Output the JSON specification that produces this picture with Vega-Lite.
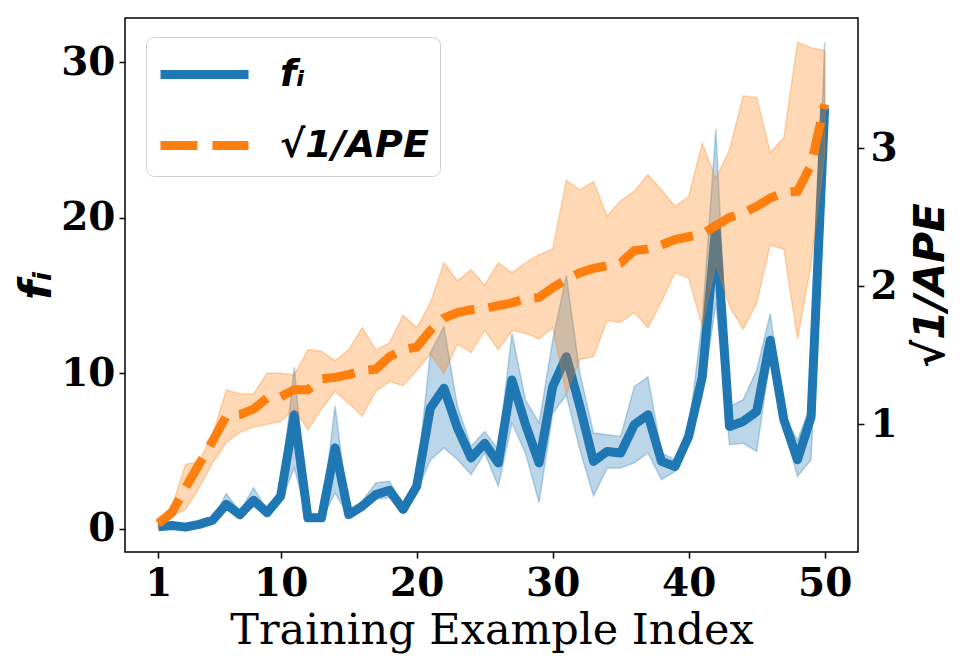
{
  "$schema": "https://vega.github.io/schema/vega-lite/v6.json",
  "width": 733,
  "height": 534,
  "autosize": {"type": "none"},
  "padding": {"left": 125, "top": 18, "right": 111, "bottom": 111},
  "background": "white",
  "data": {
    "values": [
      {"i": 1, "f": 0.13, "flo": 0.06, "fhi": 0.2, "a": 0.28, "alo": 0.25, "ahi": 0.32},
      {"i": 2, "f": 0.2, "flo": 0.12, "fhi": 0.28, "a": 0.36, "alo": 0.34, "ahi": 0.4},
      {"i": 3, "f": 0.1, "flo": 0.04, "fhi": 0.16, "a": 0.54, "alo": 0.38, "ahi": 0.71},
      {"i": 4, "f": 0.28, "flo": 0.2, "fhi": 0.36, "a": 0.71, "alo": 0.54, "ahi": 0.73},
      {"i": 5, "f": 0.55, "flo": 0.45, "fhi": 0.65, "a": 0.88, "alo": 0.72, "ahi": 0.93},
      {"i": 6, "f": 1.56, "flo": 1.24, "fhi": 2.26, "a": 1.06, "alo": 0.87, "ahi": 1.25},
      {"i": 7, "f": 0.9, "flo": 0.75, "fhi": 1.1, "a": 1.07, "alo": 0.94, "ahi": 1.22},
      {"i": 8, "f": 1.83, "flo": 1.4, "fhi": 2.63, "a": 1.11, "alo": 0.98, "ahi": 1.22},
      {"i": 9, "f": 1.03, "flo": 0.9, "fhi": 1.2, "a": 1.19, "alo": 1.0, "ahi": 1.37},
      {"i": 10, "f": 2.1, "flo": 1.7, "fhi": 2.5, "a": 1.2, "alo": 1.02, "ahi": 1.37},
      {"i": 11, "f": 7.33, "flo": 3.9, "fhi": 10.4, "a": 1.25, "alo": 1.11, "ahi": 1.36},
      {"i": 12, "f": 0.7, "flo": 0.6, "fhi": 0.8, "a": 1.25, "alo": 0.96, "ahi": 1.54},
      {"i": 13, "f": 0.7, "flo": 0.6, "fhi": 0.8, "a": 1.33, "alo": 1.11, "ahi": 1.53},
      {"i": 14, "f": 5.2, "flo": 2.3, "fhi": 7.9, "a": 1.34, "alo": 1.24, "ahi": 1.46},
      {"i": 15, "f": 0.9, "flo": 0.8, "fhi": 1.0, "a": 1.36, "alo": 1.15, "ahi": 1.54},
      {"i": 16, "f": 1.45, "flo": 1.2, "fhi": 1.8, "a": 1.39, "alo": 1.06, "ahi": 1.7},
      {"i": 17, "f": 2.2, "flo": 1.9, "fhi": 2.95, "a": 1.4, "alo": 1.24, "ahi": 1.54},
      {"i": 18, "f": 2.47, "flo": 2.0, "fhi": 3.05, "a": 1.49, "alo": 1.31, "ahi": 1.59},
      {"i": 19, "f": 1.24, "flo": 1.1, "fhi": 1.4, "a": 1.54, "alo": 1.28, "ahi": 1.79},
      {"i": 20, "f": 2.73, "flo": 2.4, "fhi": 3.1, "a": 1.56, "alo": 1.39, "ahi": 1.7},
      {"i": 21, "f": 7.75, "flo": 4.4, "fhi": 11.3, "a": 1.68, "alo": 1.51, "ahi": 1.88},
      {"i": 22, "f": 9.04, "flo": 5.2, "fhi": 13.0, "a": 1.77, "alo": 1.37, "ahi": 2.17},
      {"i": 23, "f": 6.47, "flo": 4.44, "fhi": 7.86, "a": 1.81, "alo": 1.58, "ahi": 2.04},
      {"i": 24, "f": 4.55, "flo": 3.48, "fhi": 5.3, "a": 1.83, "alo": 1.52, "ahi": 2.12},
      {"i": 25, "f": 5.5, "flo": 4.87, "fhi": 6.26, "a": 1.84, "alo": 1.68, "ahi": 2.01},
      {"i": 26, "f": 4.23, "flo": 2.73, "fhi": 5.08, "a": 1.86, "alo": 1.54, "ahi": 2.17},
      {"i": 27, "f": 9.57, "flo": 6.8, "fhi": 12.56, "a": 1.88, "alo": 1.68, "ahi": 2.1},
      {"i": 28, "f": 6.7, "flo": 4.87, "fhi": 8.29, "a": 1.91, "alo": 1.66, "ahi": 2.17},
      {"i": 29, "f": 4.23, "flo": 1.67, "fhi": 6.8, "a": 1.92, "alo": 1.62, "ahi": 2.23},
      {"i": 30, "f": 9.14, "flo": 7.43, "fhi": 12.13, "a": 1.99, "alo": 1.7, "ahi": 2.27},
      {"i": 31, "f": 11.07, "flo": 8.6, "fhi": 16.3, "a": 2.05, "alo": 1.22, "ahi": 2.77},
      {"i": 32, "f": 7.86, "flo": 5.08, "fhi": 10.0, "a": 2.1, "alo": 1.47, "ahi": 2.7},
      {"i": 33, "f": 4.33, "flo": 2.1, "fhi": 6.15, "a": 2.13, "alo": 1.49, "ahi": 2.76},
      {"i": 34, "f": 4.97, "flo": 3.9, "fhi": 6.04, "a": 2.15, "alo": 1.75, "ahi": 2.51},
      {"i": 35, "f": 4.87, "flo": 3.9, "fhi": 5.94, "a": 2.17, "alo": 1.74, "ahi": 2.62},
      {"i": 36, "f": 6.69, "flo": 4.23, "fhi": 9.14, "a": 2.26, "alo": 1.81, "ahi": 2.69},
      {"i": 37, "f": 7.33, "flo": 4.87, "fhi": 9.78, "a": 2.27, "alo": 1.7, "ahi": 2.81},
      {"i": 38, "f": 4.33, "flo": 3.16, "fhi": 4.87, "a": 2.3, "alo": 1.89, "ahi": 2.7},
      {"i": 39, "f": 4.0, "flo": 3.7, "fhi": 4.44, "a": 2.34, "alo": 2.1, "ahi": 2.58},
      {"i": 40, "f": 5.94, "flo": 5.7, "fhi": 6.37, "a": 2.36, "alo": 2.06, "ahi": 2.65},
      {"i": 41, "f": 9.78, "flo": 8.5, "fhi": 13.4, "a": 2.38, "alo": 1.71, "ahi": 3.04},
      {"i": 42, "f": 19.5, "flo": 14.5, "fhi": 25.7, "a": 2.44, "alo": 2.16, "ahi": 2.78},
      {"i": 43, "f": 6.58, "flo": 5.4, "fhi": 7.86, "a": 2.5, "alo": 1.86, "ahi": 2.99},
      {"i": 44, "f": 6.9, "flo": 5.5, "fhi": 8.29, "a": 2.53, "alo": 1.69, "ahi": 3.38},
      {"i": 45, "f": 7.54, "flo": 4.97, "fhi": 10.2, "a": 2.58, "alo": 1.88, "ahi": 3.37},
      {"i": 46, "f": 12.13, "flo": 11.07, "fhi": 13.85, "a": 2.64, "alo": 2.3, "ahi": 2.97},
      {"i": 47, "f": 7.0, "flo": 6.6, "fhi": 7.3, "a": 2.68, "alo": 2.27, "ahi": 3.08},
      {"i": 48, "f": 4.44, "flo": 3.37, "fhi": 5.7, "a": 2.69, "alo": 1.62, "ahi": 3.77},
      {"i": 49, "f": 7.2, "flo": 4.44, "fhi": 8.0, "a": 2.88, "alo": 2.16, "ahi": 3.73},
      {"i": 50, "f": 27.1, "flo": 25.0, "fhi": 31.3, "a": 3.32, "alo": 2.95, "ahi": 3.71}
    ]
  },
  "encoding": {
    "x": {
      "field": "i",
      "type": "quantitative",
      "scale": {"domain": [-1.45, 52.45], "nice": false, "zero": false},
      "axis": {
        "values": [1, 10, 20, 30, 40, 50],
        "title": "Training Example Index",
        "titleFont": "DejaVu Serif",
        "titleFontWeight": "normal",
        "titleFontSize": 43,
        "titlePadding": 6,
        "labelPadding": 6
      }
    }
  },
  "layer": [
    {
      "layer": [
        {
          "mark": {"type": "area", "color": "#1f77b4", "fillOpacity": 0.3, "stroke": "#1f77b4", "strokeOpacity": 0.3, "strokeWidth": 1.5},
          "encoding": {
            "y": {
              "field": "flo",
              "type": "quantitative",
              "scale": {"domain": [-1.5, 32.86], "nice": false, "zero": false},
              "axis": {"orient": "left", "values": [0, 10, 20, 30], "title": "fᵢ", "titleFont": "DejaVu Sans", "titleFontStyle": "italic", "titleFontWeight": "bold", "titleFontSize": 44, "titleAngle": 270, "titleX": -88, "titleY": 267, "titleAlign": "center", "titleBaseline": "middle", "labelPadding": 4}
            },
            "y2": {"field": "fhi"}
          }
        },
        {
          "mark": {"type": "line", "strokeWidth": 9, "strokeJoin": "round"},
          "encoding": {
            "y": {
              "field": "f",
              "type": "quantitative",
              "scale": {"domain": [-1.5, 32.86], "nice": false, "zero": false},
              "axis": {"orient": "left", "values": [0, 10, 20, 30], "title": "fᵢ", "titleFont": "DejaVu Sans", "titleFontStyle": "italic", "titleFontWeight": "bold", "titleFontSize": 44, "titleAngle": 270, "titleX": -88, "titleY": 267, "titleAlign": "center", "titleBaseline": "middle", "labelPadding": 4}
            },
            "color": {"datum": "fᵢ", "type": "nominal"}
          }
        }
      ]
    },
    {
      "layer": [
        {
          "mark": {"type": "area", "color": "#ff7f0e", "fillOpacity": 0.3, "stroke": "#ff7f0e", "strokeOpacity": 0.3, "strokeWidth": 1.5},
          "encoding": {
            "y": {
              "field": "alo",
              "type": "quantitative",
              "scale": {"domain": [0.074, 3.946], "nice": false, "zero": false},
              "axis": {"orient": "right", "values": [1, 2, 3], "title": "√1/APE", "titleFont": "DejaVu Sans", "titleFontStyle": "italic", "titleFontWeight": "bold", "titleFontSize": 42, "titleAngle": 270, "titleX": 72, "titleY": 267, "titleAlign": "center", "titleBaseline": "middle", "labelPadding": 6}
            },
            "y2": {"field": "ahi"}
          }
        },
        {
          "mark": {"type": "line", "strokeWidth": 9, "strokeDash": [33, 14]},
          "encoding": {
            "y": {
              "field": "a",
              "type": "quantitative",
              "scale": {"domain": [0.074, 3.946], "nice": false, "zero": false},
              "axis": {"orient": "right", "values": [1, 2, 3], "title": "√1/APE", "titleFont": "DejaVu Sans", "titleFontStyle": "italic", "titleFontWeight": "bold", "titleFontSize": 42, "titleAngle": 270, "titleX": 72, "titleY": 267, "titleAlign": "center", "titleBaseline": "middle", "labelPadding": 6}
            },
            "color": {
              "datum": "√1/APE",
              "type": "nominal",
              "scale": {"domain": ["fᵢ", "√1/APE"], "range": ["#1f77b4", "#ff7f0e"]},
              "legend": {
                "title": null,
                "orient": "none",
                "legendX": 21,
                "legendY": 19,
                "fillColor": "white",
                "strokeColor": "#d0d0d0",
                "cornerRadius": 8,
                "padding": 11,
                "symbolType": "M-2,0H2",
                "symbolSize": 1936,
                "symbolStrokeWidth": 9,
                "symbolOffset": 21,
                "labelFont": "DejaVu Sans",
                "labelFontStyle": "italic",
                "labelFontWeight": "bold",
                "labelFontSize": 38,
                "labelColor": "#000",
                "labelOffset": 49,
                "rowPadding": 25,
                "encode": {
                  "symbols": {
                    "update": {
                      "strokeDash": {"signal": "datum.value === 'fᵢ' ? [1, 0] : [37, 15]"}
                    }
                  }
                }
              }
            }
          }
        }
      ]
    }
  ],
  "resolve": {"scale": {"y": "independent"}},
  "config": {
    "view": {"stroke": "#000", "strokeWidth": 1.5},
    "axis": {
      "domain": false,
      "grid": false,
      "labelFont": "DejaVu Serif",
      "labelFontWeight": "bold",
      "labelFontSize": 39,
      "labelColor": "#000",
      "tickColor": "#000",
      "tickSize": 6,
      "tickWidth": 1.5,
      "titleColor": "#000"
    }
  }
}
